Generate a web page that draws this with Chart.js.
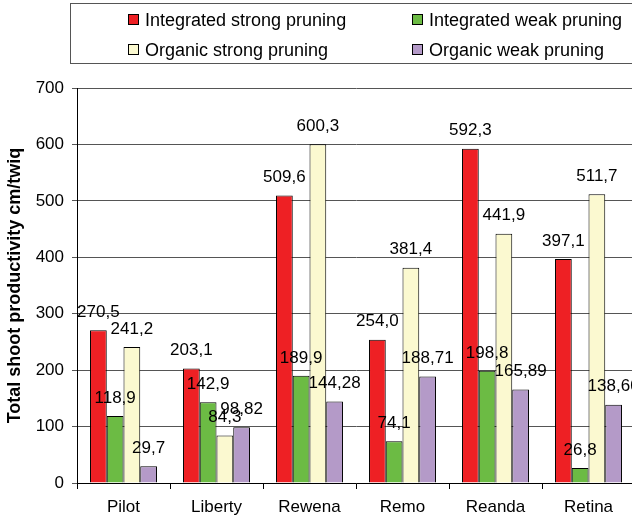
<!DOCTYPE html>
<html>
<head>
<meta charset="utf-8">
<script src="https://cdn.jsdelivr.net/npm/chart.js@4"></script>
<style>
  html, body { margin: 0; padding: 0; background: #fff; overflow: hidden; }
  #wrap { width: 632px; height: 522px; overflow: hidden; }
</style>
</head>
<body>
<div id="wrap"><canvas id="myChart" width="635" height="522"></canvas></div>
<script>
const cultivars = ['Pilot', 'Liberty', 'Rewena', 'Remo', 'Reanda', 'Retina'];
const intStrong = [270.5, 203.1, 509.6, 254.0, 592.3, 397.1];
const intWeak = [118.9, 142.9, 189.9, 74.1, 198.8, 26.8];
const orgStrong = [241.2, 84.3, 600.3, 381.4, 441.9, 511.7];
const orgWeak = [29.7, 98.82, 144.28, 188.71, 165.89, 138.6];
// digits after the comma shown over each bar
const orgWeakDigits = [1, 2, 2, 2, 2, 2];
const yTicks = [0, 100, 200, 300, 400, 500, 600, 700];

const FONT = '"Liberation Sans", Arial, sans-serif';

function fmt(v, d) {
  return v.toFixed(d).replace('.', ',');
}

// legend box at the top, 2 x 2 grid like the excel one
const boxLegend = {
  id: 'boxLegend',
  afterDraw(chart) {
    const c = chart.ctx;
    c.save();
    c.strokeStyle = '#555';
    c.lineWidth = 1;
    c.strokeRect(70.5, 3.5, 600, 60);
    const cols = [128, 412];
    const rows = [20, 50];
    c.font = '18px ' + FONT;
    c.textBaseline = 'middle';
    c.textAlign = 'left';
    chart.data.datasets.forEach((ds, i) => {
      const x = cols[i % 2];
      const y = rows[Math.floor(i / 2)];
      c.fillStyle = ds.backgroundColor;
      c.fillRect(x + 0.5, y - 5.5, 10, 10);
      c.strokeStyle = '#000';
      c.strokeRect(x + 0.5, y - 5.5, 10, 10);
      c.fillStyle = '#000';
      c.fillText(ds.label, x + 17, y + 1);
    });
    c.restore();
  }
};

// value labels above the bars
const barValues = {
  id: 'barValues',
  afterDatasetsDraw(chart) {
    const c = chart.ctx;
    c.save();
    c.font = '17px ' + FONT;
    c.fillStyle = '#000';
    c.textAlign = 'center';
    c.textBaseline = 'middle';
    chart.data.datasets.forEach((ds, i) => {
      const meta = chart.getDatasetMeta(i);
      meta.data.forEach((bar, j) => {
        const d = ds.digits ? ds.digits[j] : 1;
        c.fillText(fmt(ds.data[j], d), bar.x, bar.y - 18);
      });
    });
    c.restore();
  }
};

const ctx = document.getElementById('myChart');
new Chart(ctx, {
  type: 'bar',
  data: {
    labels: cultivars,
    datasets: [
      { label: 'Integrated strong pruning', data: intStrong, backgroundColor: '#ee2024' },
      { label: 'Integrated weak pruning', data: intWeak, backgroundColor: '#6cbb44' },
      { label: 'Organic strong pruning', data: orgStrong, backgroundColor: '#fbf9d0' },
      { label: 'Organic weak pruning', data: orgWeak, backgroundColor: '#b49ac8', digits: orgWeakDigits }
    ]
  },
  options: {
    responsive: false,
    animation: false,
    layout: { padding: { top: 88, left: 0, right: 0, bottom: 0 } },
    datasets: {
      bar: {
        borderColor: '#000',
        borderWidth: 1,
        barPercentage: 1,
        categoryPercentage: 0.72
      }
    },
    plugins: {
      legend: { display: false },
      tooltip: { enabled: false }
    },
    scales: {
      x: {
        offset: true,
        grid: {
          offset: true,
          drawOnChartArea: false,
          color: '#000',
          tickLength: 6
        },
        border: { color: '#000' },
        ticks: {
          color: '#000',
          font: { family: FONT, size: 17 },
          padding: 8
        },
        afterFit(scale) { scale.height = 39; }
      },
      y: {
        min: 0,
        max: 700,
        afterBuildTicks(scale) { scale.ticks = yTicks.map(v => ({ value: v })); },
        grid: {
          color: '#555',
          tickLength: 5
        },
        border: { color: '#000' },
        ticks: {
          color: '#000',
          font: { family: FONT, size: 17 },
          padding: 8
        },
        title: {
          display: true,
          text: 'Total shoot productivity cm/twiq',
          color: '#000',
          font: { family: FONT, size: 18, weight: 'bold' },
          padding: { top: 4, bottom: 0 }
        },
        afterFit(scale) { scale.width = 77; }
      }
    }
  },
  plugins: [boxLegend, barValues]
});
</script>
</body>
</html>
